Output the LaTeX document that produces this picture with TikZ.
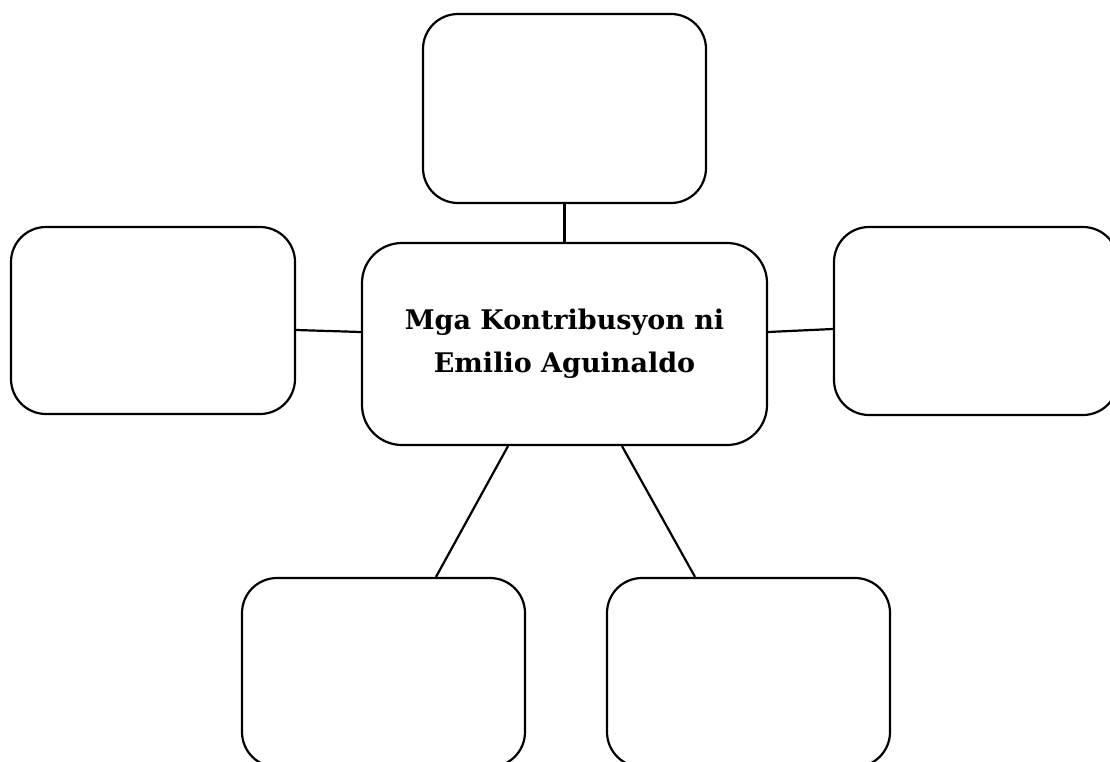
\documentclass[tikz,border=0pt]{standalone}
\usepackage{fontspec}
\newfontfamily\boxfont{DejaVu Serif}
\begin{document}
\begin{tikzpicture}[x=1pt,y=-1pt,
  box/.style={draw=black,line width=2.2pt,rounded corners=35pt,fill=white,inner sep=0pt,minimum width=284pt,minimum height=188pt},
  link/.style={draw=black,line width=2.2pt}]
\useasboundingbox (0,0) rectangle (1110,762);
\clip (0,0) rectangle (1110,762);
\node[box,minimum width=283pt,minimum height=189pt] (top) at (564.5,108.5) {};
\node[box,minimum height=187pt] (left) at (153,320.5) {};
\node[box,minimum width=405pt,minimum height=202pt,rounded corners=40pt,align=center,font=\boxfont\bfseries\fontsize{27}{43}\selectfont] (center) at (564.5,344) {Mga Kontribusyon ni\\Emilio Aguinaldo};
\node[box] (right) at (976,321) {};
\node[box,minimum width=283pt,minimum height=189pt] (bl) at (383.5,672.5) {};
\node[box,minimum width=283pt,minimum height=189pt] (br) at (748.5,672.5) {};
\draw[link] (top.south) -- (center.north);
\draw[link] ([yshift=-9.5pt]left.east) -- ([yshift=12pt]center.west);
\draw[link] ([yshift=12pt]center.east) -- ([yshift=-8pt]right.west);
\draw[link] ([xshift=-56.5pt]center.south) -- ([xshift=52.5pt]bl.north);
\draw[link] ([xshift=57.5pt]center.south) -- ([xshift=-53.5pt]br.north);
\end{tikzpicture}
\end{document}
